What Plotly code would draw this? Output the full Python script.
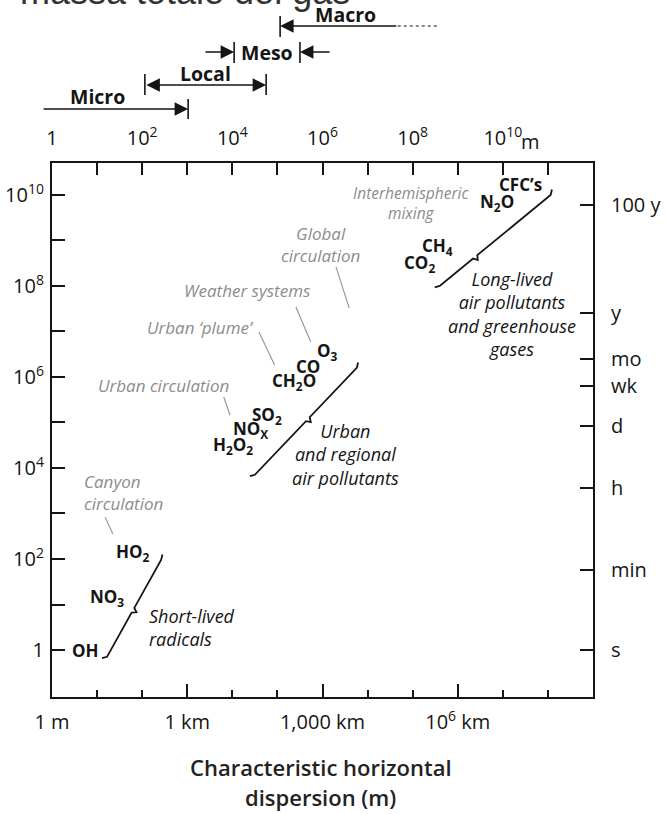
import math
import plotly.graph_objects as go

# ---------------- data (log10 values) ----------------
# bottom axis: horizontal dispersion (m)
bottom_major_exp = [0, 3, 6, 9]
bottom_major_labels = ["1 m", "1 km", "1,000 km", "10<sup>6</sup> km"]
bottom_minor_exp = [1, 2, 4, 5, 7, 8, 10, 11]
# top axis
top_tick_exp = list(range(0, 12))
top_tick_labels = ["1", "", "10<sup>2</sup>", "", "10<sup>4</sup>", "", "10<sup>6</sup>", "",
                   "10<sup>8</sup>", "", "10<sup>10</sup>", ""]
top_unit = "m"
# left axis: lifetime (s)
left_tick_exp = list(range(0, 11))
left_tick_labels = ["1", "", "10<sup>2</sup>", "", "10<sup>4</sup>", "", "10<sup>6</sup>", "",
                    "10<sup>8</sup>", "", "10<sup>10</sup>"]
# right axis: time units
time_labels = ["s", "min", "h", "d", "wk", "mo", "y", "100 y"]
time_exp = [0.0, 1.76, 3.56, 4.93, 5.80, 6.40, 7.40, 9.78]

# pollutant groups (brace lines)
group_labels = ["Short-lived<br>radicals",
                "Urban<br>and regional<br>air pollutants",
                "Long-lived<br>air pollutants<br>and greenhouse<br>gases"]
group_x0_exp = [1.22, 4.50, 8.60]
group_x1_exp = [2.42, 6.76, 11.06]
group_y0_exp = [-0.15, 3.85, 8.00]
group_y1_exp = [1.98, 6.20, 10.00]
group_tip_frac = [0.48, 0.52, 0.32]
group_label_x = [2.10, 6.50, 10.20]
group_label_y = [0.49, 4.29, 7.38]
group_label_align = ["left", "center", "center"]

# species
species = ["OH", "NO<sub>3</sub>", "HO<sub>2</sub>", "H<sub>2</sub>O<sub>2</sub>", "NO<sub>X</sub>",
           "SO<sub>2</sub>", "CH<sub>2</sub>O", "CO", "O<sub>3</sub>", "CO<sub>2</sub>",
           "CH<sub>4</sub>", "N<sub>2</sub>O", "CFC’s"]
species_x = [0.75, 1.22, 1.80, 4.01, 4.41, 4.77, 5.37, 5.68, 6.12, 8.16, 8.56, 9.87, 10.40]
species_y = [-0.02, 1.16, 2.15, 4.50, 4.84, 5.16, 5.90, 6.24, 6.55, 8.50, 8.86, 9.83, 10.24]

# circulation scales (gray labels + leader lines)
circ_labels = ["Canyon<br>circulation", "Urban circulation", "Urban ‘plume’",
               "Weather systems", "Global<br>circulation", "Interhemispheric<br>mixing"]
circ_x = [0.67, 2.48, 3.30, 4.32, 5.96, 7.96]
circ_y = [3.47, 5.82, 7.08, 7.91, 8.92, 9.82]
circ_size = [17, 17, 17, 17, 17, 15.5]
circ_anchor = ["left", "center", "center", "center", "center", "center"]
leader_x0 = [1.18, 3.81, 4.59, 5.41, 6.30]
leader_y0 = [2.92, 5.56, 6.99, 7.54, 8.42]
leader_x1 = [1.35, 3.95, 4.94, 5.74, 6.59]
leader_y1 = [2.55, 5.16, 6.26, 6.77, 7.52]

# scale ranges above the chart (log10 m)
micro_range = [-0.22, 3.02]
local_range = [2.06, 4.75]
meso_range = [4.04, 5.50]
meso_outer = [3.37, 6.19]
macro_start = 5.06
macro_solid_end = 7.67
macro_dotted_end = 8.54
scale_names = ["Micro", "Local", "Meso", "Macro"]
scale_label_x = [1.00, 3.41, 4.77, 6.52]

title_lines = ["Characteristic horizontal", "dispersion (m)"]
slide_title = "massa totale del gas"

# ---------------- styling ----------------
W, H = 666, 814
ML, MR = 52, 73
FONT = "Open Sans"
INK = "#151515"
GRAY = "#8c8c8c"
PLOT_TOP, PLOT_BOT = 163, 697
STRIP_H = 125


def py(row):
    return 1 - row / H


def p10(v):
    return 10 ** v


fig = go.Figure()

# brace lines
for i in range(len(group_labels)):
    x0, x1 = group_x0_exp[i], group_x1_exp[i]
    y0, y1 = group_y0_exp[i], group_y1_exp[i]
    t = group_tip_frac[i]
    dx, dy = x1 - x0, y1 - y0
    L = math.hypot(dx, dy)
    ux, uy = dx / L, dy / L
    nx, ny = uy, -ux
    mx, my = x0 + t * dx, y0 + t * dy
    g, tip = 0.06, 0.09
    xs = [x0 - 0.11, x0, mx - g * ux, mx + tip * nx, mx + g * ux, x1, x1 + 0.03]
    ys = [y0 - 0.03, y0, my - g * uy, my + tip * ny, my + g * uy, y1, y1 + 0.12]
    fig.add_trace(go.Scatter(x=[p10(v) for v in xs], y=[p10(v) for v in ys], mode="lines",
                             line=dict(color=INK, width=1.8), hoverinfo="skip", showlegend=False))
    fig.add_annotation(x=group_label_x[i], y=group_label_y[i], xref="x", yref="y",
                       text="<i>" + group_labels[i] + "</i>", showarrow=False,
                       xanchor=group_label_align[i], align=group_label_align[i],
                       font=dict(family=FONT, size=18, color=INK))

# leaders
lx, ly = [], []
for i in range(len(leader_x0)):
    lx += [p10(leader_x0[i]), p10(leader_x1[i]), None]
    ly += [p10(leader_y0[i]), p10(leader_y1[i]), None]
fig.add_trace(go.Scatter(x=lx, y=ly, mode="lines", line=dict(color="#9a9a9a", width=1.2),
                         hoverinfo="skip", showlegend=False))

for i, lab in enumerate(circ_labels):
    fig.add_annotation(x=circ_x[i], y=circ_y[i], xref="x", yref="y", text="<i>" + lab + "</i>",
                       showarrow=False, xanchor=circ_anchor[i], align=circ_anchor[i],
                       font=dict(family=FONT, size=circ_size[i], color=GRAY))

for i, s in enumerate(species):
    fig.add_annotation(x=species_x[i], y=species_y[i], xref="x", yref="y", text="<b>" + s + "</b>",
                       showarrow=False, font=dict(family=FONT, size=17, color=INK))

# dummy traces so overlay axes render
fig.add_trace(go.Scatter(x=[None], y=[None], xaxis="x2", yaxis="y", showlegend=False, hoverinfo="skip"))
fig.add_trace(go.Scatter(x=[None], y=[None], xaxis="x", yaxis="y2", showlegend=False, hoverinfo="skip"))

# ---------------- scale strip above the chart ----------------
bars_x, bars_y = [], []
for xe, r0, r1 in [(micro_range[1], 99, 119), (local_range[0], 74, 95), (local_range[1], 74, 95),
                   (meso_range[0], 42, 63), (meso_range[1], 42, 63), (macro_start, 16, 37)]:
    bars_x += [p10(xe), p10(xe), None]
    bars_y += [r0, r1, None]
fig.add_trace(go.Scatter(x=bars_x, y=bars_y, xaxis="x", yaxis="y3", mode="lines",
                         line=dict(color=INK, width=1.6), hoverinfo="skip", showlegend=False))
fig.add_trace(go.Scatter(x=[p10(macro_solid_end), p10(macro_dotted_end)], y=[26, 26], xaxis="x", yaxis="y3",
                         mode="lines", line=dict(color=INK, width=1.2, dash="dot"),
                         hoverinfo="skip", showlegend=False))


def arrow(head, tail, row, both=False):
    fig.add_annotation(x=head, y=row, ax=tail, ay=row, xref="x", yref="y3", axref="x", ayref="y3",
                       text="", showarrow=True, arrowhead=2, arrowsize=1.8, arrowwidth=1.5,
                       arrowcolor=INK, arrowside="end+start" if both else "end")


arrow(micro_range[1], micro_range[0], 109)
arrow(local_range[1], local_range[0], 85, both=True)
arrow(meso_range[0], meso_outer[0], 52)
arrow(meso_range[1], meso_outer[1], 52)
arrow(macro_start, macro_solid_end, 26)

for name, xl, row in zip(scale_names, scale_label_x, [96, 73, 52, 14]):
    fig.add_annotation(x=xl, y=row, xref="x", yref="y3", text="<b>" + name + "</b>", showarrow=False,
                       font=dict(family=FONT, size=19.5, color=INK))

# top unit, axis title, slide title
fig.add_annotation(x=10.36, y=py(141), xref="x", yref="paper", text=top_unit, showarrow=False,
                   xanchor="left", yanchor="middle", font=dict(family=FONT, size=20, color=INK))
for line, row in zip(title_lines, [767, 797]):
    fig.add_annotation(x=0.497, y=py(row), xref="paper", yref="paper", text=line, showarrow=False,
                       yanchor="middle", font=dict(family=FONT, size=22, color="#222", weight=600))
fig.add_annotation(x=(18 - ML) / (W - ML - MR), y=py(13.5), xref="paper", yref="paper", text=slide_title,
                   showarrow=False, xanchor="left", yanchor="bottom",
                   font=dict(family="Liberation Sans", size=36, color="#333"))

axfont = dict(family=FONT, size=20, color=INK)
common = dict(showline=True, linecolor=INK, linewidth=2, showgrid=False, zeroline=False,
              ticks="inside", tickcolor=INK, tickwidth=1.5, tickfont=axfont, tickmode="array")
yr = [-1.033, 10.703]
fig.update_layout(
    width=W, height=H,
    margin=dict(l=ML, r=MR, t=0, b=0, autoexpand=False),
    paper_bgcolor="white", plot_bgcolor="white", showlegend=False,
    xaxis=dict(type="log", range=[0, 12], domain=[0, 1], anchor="y",
               tickvals=[p10(v) for v in bottom_major_exp], ticktext=bottom_major_labels, ticklen=13,
               minor=dict(tickmode="array", tickvals=[p10(v) for v in bottom_minor_exp], ticks="inside",
                          ticklen=7, tickwidth=1.5, tickcolor=INK, showgrid=False),
               ticklabelstandoff=6, **common),
    xaxis2=dict(type="log", range=[0, 12], overlaying="x", side="top", anchor="y",
                tickvals=[p10(v) for v in top_tick_exp], ticktext=top_tick_labels, ticklen=12,
                ticklabelstandoff=8, **common),
    yaxis=dict(type="log", range=yr, domain=[py(PLOT_BOT), py(PLOT_TOP)], anchor="x",
               tickvals=[p10(v) for v in left_tick_exp], ticktext=left_tick_labels, ticklen=13,
               ticklabelstandoff=2, **common),
    yaxis2=dict(type="log", range=yr, overlaying="y", side="right", anchor="x",
                tickvals=[p10(v) for v in time_exp], ticktext=time_labels, ticklen=13,
                ticklabelstandoff=12, **common),
    yaxis3=dict(domain=[py(STRIP_H), 1], range=[STRIP_H, 0], anchor="x", visible=False),
)

fig.write_html("out.html", config={"displayModeBar": False},
               post_script="document.body.style.margin='0px';")
